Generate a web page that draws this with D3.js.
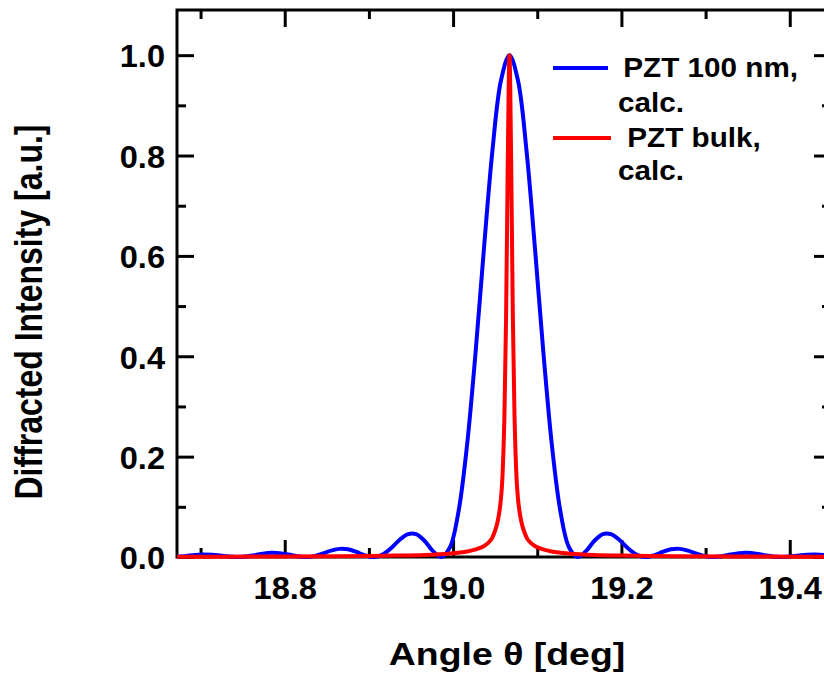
<!DOCTYPE html>
<html>
<head>
<meta charset="utf-8">
<script src="https://cdn.jsdelivr.net/npm/d3@7"></script>
<style>
  body { margin: 0; background: #fff; }
  text { font-family: "Liberation Sans", Arial, sans-serif; font-weight: bold; fill: #000; }
</style>
</head>
<body>
<svg id="chart" width="824" height="677"></svg>
<script>
// PZT 100 nm, calc. (angle in deg, normalised intensity)
const angles100 = [18.663, 18.6731, 18.6832, 18.6933, 18.7034, 18.7135, 18.7236, 18.7337, 18.7438, 18.7539,
  18.764, 18.7741, 18.7842, 18.7943, 18.8044, 18.8145, 18.8246, 18.8347, 18.8448, 18.8549,
  18.865, 18.8751, 18.8852, 18.8953, 18.9054, 18.9155, 18.9256, 18.9357, 18.9458, 18.9559,
  18.966, 18.9761, 18.9862, 18.9963, 19.0064, 19.0165, 19.0266, 19.0367, 19.0468, 19.0569,
  19.067, 19.0771, 19.0872, 19.0973, 19.1074, 19.1175, 19.1276, 19.1377, 19.1478, 19.1579,
  19.168, 19.1781, 19.1882, 19.1983, 19.2084, 19.2185, 19.2286, 19.2387, 19.2488, 19.2589,
  19.269, 19.2791, 19.2892, 19.2993, 19.3094, 19.3195, 19.3296, 19.3397, 19.3498, 19.3599,
  19.37, 19.3801, 19.3902, 19.4003, 19.4104, 19.4205, 19.4306, 19.4407, 19.4508];
const intensity100 = [0, 0.0006, 0.0022, 0.004, 0.005, 0.0045, 0.0028, 0.0009, 0, 0.001,
  0.0036, 0.0066, 0.0083, 0.0076, 0.0048, 0.0015, 0, 0.0018, 0.0067, 0.0126,
  0.0162, 0.0153, 0.01, 0.0033, 0, 0.0042, 0.0165, 0.0328, 0.045, 0.0457,
  0.0324, 0.0117, 0, 0.0194, 0.0901, 0.2214, 0.4053, 0.615, 0.8106, 0.9496,
  1, 0.9496, 0.8106, 0.615, 0.4053, 0.2214, 0.0901, 0.0194, 0, 0.0117,
  0.0324, 0.0457, 0.045, 0.0328, 0.0165, 0.0042, 0, 0.0033, 0.01, 0.0153,
  0.0162, 0.0126, 0.0067, 0.0018, 0, 0.0015, 0.0048, 0.0076, 0.0083, 0.0066,
  0.0036, 0.001, 0, 0.0009, 0.0028, 0.0045, 0.005, 0.004, 0.0022];

// PZT bulk, calc.
const anglesBulk = [18.667, 18.767, 18.867, 18.917, 18.967, 18.997, 19.017, 19.027, 19.037, 19.045,
  19.051, 19.055, 19.058, 19.061, 19.063, 19.065, 19.067, 19.069, 19.071, 19.073,
  19.076, 19.079, 19.083, 19.089, 19.097, 19.107, 19.117, 19.137, 19.167, 19.217,
  19.267, 19.367, 19.467];
const intensityBulk = [0.0005, 0.0008, 0.0015, 0.0025, 0.004, 0.007, 0.011, 0.015, 0.022, 0.034,
  0.058, 0.09, 0.14, 0.28, 0.48, 0.79, 1, 0.79, 0.48, 0.28,
  0.14, 0.09, 0.058, 0.034, 0.022, 0.015, 0.011, 0.007, 0.004, 0.0025,
  0.0015, 0.0008, 0.0005];

const xMajor = [18.8, 19.0, 19.2, 19.4];
const xMinor = [18.7, 18.9, 19.1, 19.3];
const yMajor = [0.0, 0.2, 0.4, 0.6, 0.8, 1.0];
const yMinor = [0.1, 0.3, 0.5, 0.7, 0.9];

const seriesNames = [" PZT 100 nm,", " PZT bulk,"];
const seriesColors = ["#0000ff", "#ff0000"];

const plot = { left: 177, right: 831, top: 10, bottom: 557 };
const svg = d3.select("#chart");

const x = d3.scaleLinear().domain([18.672, 19.449]).range([plot.left, plot.right]);
const y = d3.scaleLinear().domain([0, 1.09]).range([plot.bottom, plot.top]);

const tickFont = 31, tickStretch = 1.05;

function styleAxis(g) {
  g.attr("font-family", null).attr("font-size", null);
  g.select(".domain").remove();
  g.selectAll(".tick line").attr("stroke", "#000").attr("stroke-width", 3);
  g.selectAll("text").attr("font-size", tickFont);
}

// bottom axis
svg.append("g")
  .attr("transform", `translate(0,${plot.bottom})`)
  .call(d3.axisBottom(x).tickValues(xMajor).tickSize(-17).tickPadding(20).tickFormat(d3.format(".1f")))
  .call(styleAxis)
  .selectAll("text").attr("transform", `scale(${tickStretch},1)`);
svg.append("g")
  .attr("transform", `translate(0,${plot.bottom})`)
  .call(d3.axisBottom(x).tickValues(xMinor).tickSize(-9).tickFormat(""))
  .call(styleAxis);

// top axis
svg.append("g")
  .attr("transform", `translate(0,${plot.top})`)
  .call(d3.axisTop(x).tickValues(xMajor).tickSize(-17).tickFormat(""))
  .call(styleAxis);
svg.append("g")
  .attr("transform", `translate(0,${plot.top})`)
  .call(d3.axisTop(x).tickValues(xMinor).tickSize(-9).tickFormat(""))
  .call(styleAxis);

// left axis
svg.append("g")
  .attr("transform", `translate(${plot.left},0)`)
  .call(d3.axisLeft(y).tickValues(yMajor).tickSize(-17).tickPadding(12 / tickStretch).tickFormat(d3.format(".1f")))
  .call(styleAxis)
  .selectAll("text").attr("dy", "0.38em").attr("transform", `scale(${tickStretch},1)`);
svg.append("g")
  .attr("transform", `translate(${plot.left},0)`)
  .call(d3.axisLeft(y).tickValues(yMinor).tickSize(-9).tickFormat(""))
  .call(styleAxis);

// right axis
svg.append("g")
  .attr("transform", `translate(${plot.right},0)`)
  .call(d3.axisRight(y).tickValues(yMajor).tickSize(-17).tickFormat(""))
  .call(styleAxis);
svg.append("g")
  .attr("transform", `translate(${plot.right},0)`)
  .call(d3.axisRight(y).tickValues(yMinor).tickSize(-9).tickFormat(""))
  .call(styleAxis);

// frame
svg.append("rect")
  .attr("x", plot.left).attr("y", plot.top)
  .attr("width", plot.right - plot.left).attr("height", plot.bottom - plot.top)
  .attr("fill", "none").attr("stroke", "#000").attr("stroke-width", 3);

// curves
svg.append("clipPath").attr("id", "clip")
  .append("rect")
  .attr("x", plot.left).attr("y", plot.top)
  .attr("width", plot.right - plot.left).attr("height", plot.bottom - plot.top + 4);

const line = d3.line()
  .x(d => x(d[0]))
  .y(d => y(d[1]))
  .curve(d3.curveCatmullRom.alpha(0.5));

const series = [
  d3.zip(angles100, intensity100),
  d3.zip(anglesBulk, intensityBulk)
];

svg.append("g")
  .attr("clip-path", "url(#clip)")
  .selectAll("path")
  .data(series)
  .join("path")
  .attr("d", line)
  .attr("fill", "none")
  .attr("stroke", (d, i) => seriesColors[i])
  .attr("stroke-width", 4)
  .attr("stroke-linejoin", "round");

// legend
const legend = svg.append("g");
const legendRows = [
  { lineY: 68, x1: 553, x2: 608, text: [{ t: seriesNames[0], x: 615, y: 77 }, { t: "calc.", x: 618, y: 112 }] },
  { lineY: 138, x1: 553, x2: 611, text: [{ t: seriesNames[1], x: 619, y: 147 }, { t: "calc.", x: 618, y: 180 }] }
];
legendRows.forEach((row, i) => {
  legend.append("line")
    .attr("x1", row.x1).attr("x2", row.x2)
    .attr("y1", row.lineY).attr("y2", row.lineY)
    .attr("stroke", seriesColors[i]).attr("stroke-width", 4);
  row.text.forEach(t => {
    legend.append("text")
      .attr("transform", `translate(${t.x},${t.y}) scale(1.06,1)`)
      .attr("font-size", 28)
      .style("white-space", "pre")
      .text(t.t);
  });
});

// axis titles
svg.append("text")
  .attr("transform", "translate(507,665) scale(1.17,1)")
  .attr("text-anchor", "middle")
  .attr("font-size", 32)
  .text("Angle θ [deg]");

svg.append("text")
  .attr("transform", "translate(42,312) rotate(-90) scale(1,1.2)")
  .attr("text-anchor", "middle")
  .attr("font-size", 32)
  .text("Diffracted Intensity [a.u.]");
</script>
</body>
</html>
